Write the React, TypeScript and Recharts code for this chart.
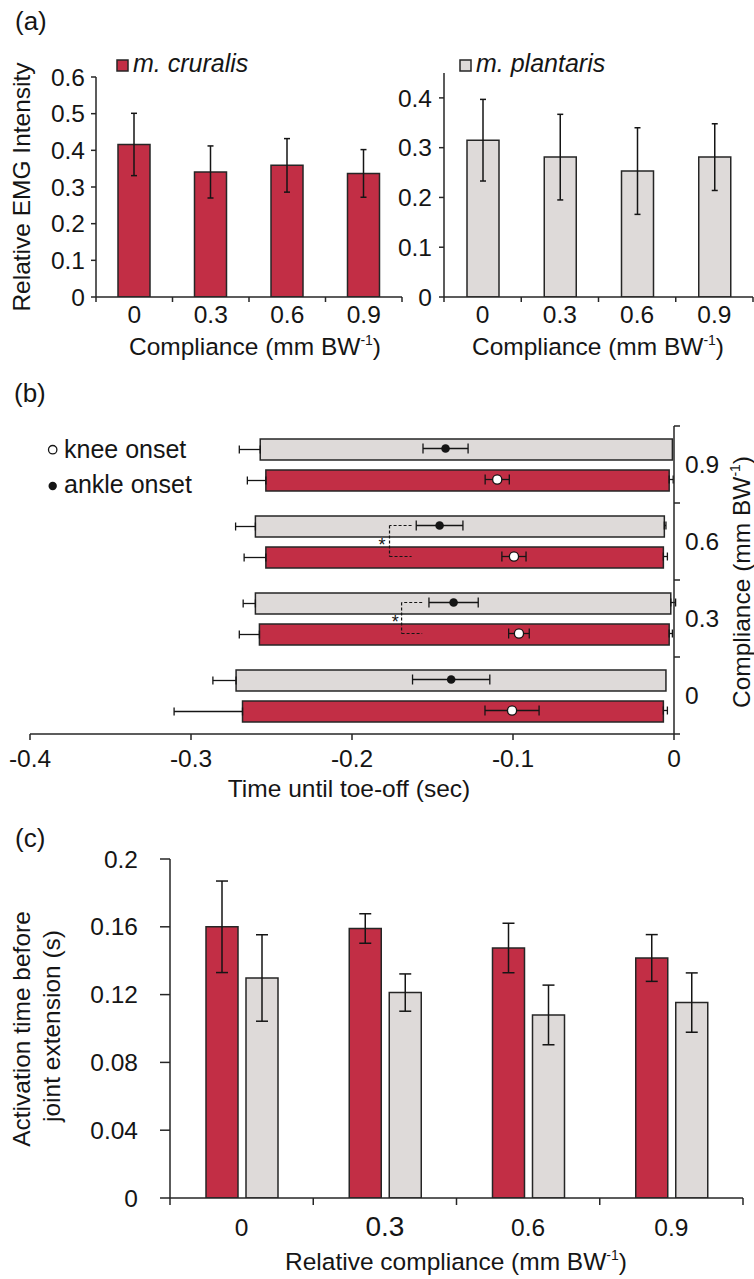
import React from "react";
import {
  Bar,
  BarChart,
  ComposedChart,
  ErrorBar,
  Legend,
  ReferenceDot,
  ReferenceLine,
  Scatter,
  XAxis,
  YAxis,
} from "recharts";

const FONT = '"Liberation Sans", Arial, Helvetica, sans-serif';
const RED = "#c22e45";
const GRAY = "#dedad9";
const INK = "#151515";
const EDGE = "#262626";

// (a) relative EMG intensity
const compliance = ["0", "0.3", "0.6", "0.9"];
const cruralisEmg = [0.416, 0.341, 0.359, 0.337];
const cruralisEmgErr = [0.085, 0.071, 0.073, 0.065];
const plantarisEmg = [0.315, 0.281, 0.253, 0.281];
const plantarisEmgErr = [0.082, 0.086, 0.087, 0.067];
const cruralisEmgTicks = [0, 0.1, 0.2, 0.3, 0.4, 0.5, 0.6];
const plantarisEmgTicks = [0, 0.1, 0.2, 0.3, 0.4];

// (b) activity window relative to toe-off (sec)
const plantarisStart = [-0.272, -0.26, -0.26, -0.257];
const plantarisEnd = [-0.005, -0.002, -0.006, -0.001];
const plantarisStartErr = [0.0144, 0.0076, 0.0123, 0.013];
const plantarisEndErr = [0, 0.003, 0.001, 0];
const cruralisStart = [-0.268, -0.2575, -0.2535, -0.2535];
const cruralisEnd = [-0.0066, -0.003, -0.0066, -0.003];
const cruralisStartErr = [0.0425, 0.0125, 0.0135, 0.0115];
const cruralisEndErr = [0.0025, 0.002, 0.0025, 0.0025];
const ankleOnset = [-0.1384, -0.1369, -0.1456, -0.1419];
const ankleOnsetErr = [0.024, 0.0153, 0.0145, 0.014];
const kneeOnset = [-0.1006, -0.0963, -0.0994, -0.1098];
const kneeOnsetErr = [0.0168, 0.0064, 0.0075, 0.0075];
const timeTicks = [-0.4, -0.3, -0.2, -0.1, 0];
// significance brackets (index into compliance)
const sigIndex = [2, 1];
const sigTip = [-0.163, -0.1564];
const sigSpine = [-0.1767, -0.1692];
const sigStar = [-0.1814, -0.1731];

// (c) activation time before joint extension (s)
const cruralisAct = [0.16, 0.159, 0.1475, 0.1416];
const cruralisActErr = [0.027, 0.0087, 0.0146, 0.0138];
const plantarisAct = [0.1298, 0.1212, 0.108, 0.1153];
const plantarisActErr = [0.0255, 0.011, 0.0176, 0.0175];
const actTicks = [0, 0.04, 0.08, 0.12, 0.16, 0.2];

const TICK_FS = 24.5;
const TITLE_FS = 24.5;
const axisLine = { stroke: EDGE, strokeWidth: 1.5 };
const tickLine = { stroke: EDGE, strokeWidth: 1.5 };
const tickFont = { fontSize: TICK_FS, fill: INK };

// panel (b) bar geometry
const B_BAND = 77;
const B_BAR = 21;
const B_GAP = 10;
const bPad = Math.floor((B_BAND - 2 * B_BAR - B_GAP) / 2);
const grayFrac = (bPad + B_BAR / 2) / B_BAND;
const redFrac = (bPad + B_BAR + B_GAP + B_BAR / 2) / B_BAND;
const topRow = (i: number) => compliance.length - 1 - i;
const rowLabels = [...compliance].reverse();

const emgRows = compliance.map((c, i) => ({
  comp: c,
  cru: cruralisEmg[i],
  cruErr: cruralisEmgErr[i],
  pla: plantarisEmg[i],
  plaErr: plantarisEmgErr[i],
}));

const onsetRows = compliance.map((c, i) => ({
  comp: c,
  pStart: plantarisStart[i],
  pEnd: plantarisEnd[i],
  pErr: [plantarisStartErr[i], 0],
  cStart: cruralisStart[i],
  cEnd: cruralisEnd[i],
  cErr: [cruralisStartErr[i], 0],
}));

const ankleDots = compliance.map((_, i) => ({
  x: ankleOnset[i],
  y: topRow(i) + grayFrac,
  err: ankleOnsetErr[i],
}));
const kneeDots = compliance.map((_, i) => ({
  x: kneeOnset[i],
  y: topRow(i) + redFrac,
  err: kneeOnsetErr[i],
}));
const endTips = [
  ...compliance.map((_, i) => ({ x: plantarisEnd[i], y: topRow(i) + grayFrac, err: [0, plantarisEndErr[i]] })),
  ...compliance.map((_, i) => ({ x: cruralisEnd[i], y: topRow(i) + redFrac, err: [0, cruralisEndErr[i]] })),
].filter((d) => d.err[1] > 0);

const actRows = compliance.map((c, i) => ({
  comp: c,
  cru: cruralisAct[i],
  cruErr: cruralisActErr[i],
  pla: plantarisAct[i],
  plaErr: plantarisActErr[i],
}));

const C_TICK_SIZE: Record<string, number> = { "0.3": 28 };

function EdgeTick(props: any) {
  const { x, y, payload, index, band, count, tickLen, tickGap, baseline, sizes } = props;
  const axisY = y - tickLen - tickGap;
  const fs = (sizes && sizes[payload.value]) || TICK_FS;
  return (
    <g>
      <line x1={x - band / 2} x2={x - band / 2} y1={axisY} y2={axisY + tickLen} stroke={EDGE} strokeWidth={1.5} />
      {index === count - 1 && (
        <line x1={x + band / 2} x2={x + band / 2} y1={axisY} y2={axisY + tickLen} stroke={EDGE} strokeWidth={1.5} />
      )}
      <text x={x} y={axisY + baseline} textAnchor="middle" fontSize={fs} fill={INK}>
        {payload.value}
      </text>
    </g>
  );
}

function TimeTick(props: any) {
  const { x, y, payload } = props;
  return (
    <text x={x} y={y + 17} textAnchor="middle" fontSize={TICK_FS} fill={INK}>
      {payload.value}
    </text>
  );
}

function RowTick(props: any) {
  const { x, y, payload } = props;
  const label = rowLabels[payload.value];
  if (label === undefined) return null;
  return (
    <text x={x} y={y + B_BAND / 2} dy="0.36em" textAnchor="start" fontSize={TICK_FS} fill={INK}>
      {label}
    </text>
  );
}

function SwatchLegend({ color, name }: { color: string; name: string }) {
  return (
    <svg width={200} height={32} style={{ overflow: "visible" }}>
      <rect x={7} y={10} width={11} height={11} fill={color} stroke={EDGE} strokeWidth={1.5} />
      <text x={23} y={22} fontSize={25} fontStyle="italic" fill={INK} fontFamily={FONT}>
        {name}
      </text>
    </svg>
  );
}

function OnsetLegend() {
  return (
    <svg width={200} height={80} style={{ overflow: "visible" }}>
      <circle cx={12.7} cy={19.7} r={4.2} fill="#fff" stroke={INK} strokeWidth={1.3} />
      <text x={24} y={27.7} fontSize={25} fill={INK} fontFamily={FONT}>
        knee onset
      </text>
      <circle cx={12.7} cy={56} r={4.2} fill={INK} />
      <text x={24} y={63.3} fontSize={25} fill={INK} fontFamily={FONT}>
        ankle onset
      </text>
    </svg>
  );
}

function UnitTitle({ x, y, lead, rotate }: { x: number; y: number; lead: string; rotate?: boolean }) {
  return (
    <text
      x={x}
      y={y}
      textAnchor="middle"
      fontSize={TITLE_FS}
      fill={INK}
      transform={rotate ? `rotate(-90 ${x} ${y})` : undefined}
    >
      {lead} (mm BW
      <tspan fontSize={14} dy={-10}>
        -1
      </tspan>
      <tspan dy={10}>)</tspan>
    </text>
  );
}

const abs = (left: number, top: number): React.CSSProperties => ({ position: "absolute", left, top });

export default function App() {
  return (
    <div
      style={{
        position: "absolute",
        left: 0,
        top: 0,
        width: 754,
        height: 1279,
        background: "#fff",
        fontFamily: FONT,
        overflow: "hidden",
      }}
    >
      {/* (a) m. cruralis */}
      <div style={abs(0, 0)}>
        <BarChart width={410} height={370} data={emgRows} barSize={32} margin={{ top: 77, right: 8, bottom: 33, left: 36 }}>
          <XAxis
            dataKey="comp"
            interval={0}
            height={40}
            axisLine={axisLine}
            tickLine={false}
            tickSize={5}
            tickMargin={4}
            tick={<EdgeTick band={76.5} count={4} tickLen={5} tickGap={4} baseline={26} />}
          />
          <YAxis
            type="number"
            domain={[0, 0.6]}
            ticks={cruralisEmgTicks}
            allowDataOverflow
            width={60}
            tickSize={5}
            tickMargin={6}
            axisLine={axisLine}
            tickLine={tickLine}
            tick={tickFont}
          />
          <Bar dataKey="cru" fill={RED} stroke={EDGE} strokeWidth={1.5} isAnimationActive={false}>
            <ErrorBar dataKey="cruErr" direction="y" width={3} stroke={INK} strokeWidth={1.5} />
          </Bar>
          <Legend
            layout="horizontal"
            verticalAlign="middle"
            align="center"
            wrapperStyle={{ left: 110, top: 50, width: 200, height: 32 }}
            content={() => <SwatchLegend color={RED} name="m. cruralis" />}
          />
        </BarChart>
      </div>

      {/* (a) m. plantaris */}
      <div style={abs(377, 0)}>
        <BarChart width={377} height={370} data={emgRows} barSize={32} margin={{ top: 73, right: 1, bottom: 33, left: 7 }}>
          <XAxis
            dataKey="comp"
            interval={0}
            height={40}
            axisLine={axisLine}
            tickLine={false}
            tickSize={5}
            tickMargin={4}
            tick={<EdgeTick band={77.25} count={4} tickLen={5} tickGap={4} baseline={26} />}
          />
          <YAxis
            type="number"
            domain={[0, 0.45]}
            ticks={plantarisEmgTicks}
            allowDataOverflow
            width={60}
            tickSize={5}
            tickMargin={7}
            axisLine={axisLine}
            tickLine={tickLine}
            tick={tickFont}
          />
          <Bar dataKey="pla" fill={GRAY} stroke={EDGE} strokeWidth={1.5} isAnimationActive={false}>
            <ErrorBar dataKey="plaErr" direction="y" width={3} stroke={INK} strokeWidth={1.5} />
          </Bar>
          <Legend
            layout="horizontal"
            verticalAlign="middle"
            align="center"
            wrapperStyle={{ left: 76, top: 50, width: 200, height: 32 }}
            content={() => <SwatchLegend color={GRAY} name="m. plantaris" />}
          />
        </BarChart>
      </div>

      {/* (b) onset timing */}
      <div style={abs(0, 380)}>
        <ComposedChart
          layout="vertical"
          width={754}
          height={430}
          data={onsetRows}
          barSize={B_BAR}
          barGap={B_GAP}
          margin={{ top: 46, right: 30, bottom: 16, left: 30 }}
        >
          <XAxis
            type="number"
            domain={[-0.4, 0]}
            ticks={timeTicks}
            allowDataOverflow
            height={60}
            tickSize={6}
            tickMargin={10}
            axisLine={axisLine}
            tickLine={tickLine}
            tick={<TimeTick />}
          />
          <YAxis yAxisId="cat" type="category" dataKey="comp" hide reversed />
          <YAxis
            yAxisId="num"
            type="number"
            dataKey="y"
            orientation="right"
            domain={[0, 4]}
            ticks={[0, 1, 2, 3, 4]}
            allowDataOverflow
            width={50}
            tickSize={6}
            tickMargin={5}
            axisLine={axisLine}
            tickLine={tickLine}
            tick={<RowTick />}
          />
          <Bar
            yAxisId="cat"
            dataKey={(d: any) => [d.pEnd, d.pStart]}
            fill={GRAY}
            stroke={EDGE}
            strokeWidth={1.5}
            isAnimationActive={false}
          >
            <ErrorBar dataKey="pErr" direction="x" width={4} stroke={INK} strokeWidth={1.3} />
          </Bar>
          <Bar
            yAxisId="cat"
            dataKey={(d: any) => [d.cEnd, d.cStart]}
            fill={RED}
            stroke={EDGE}
            strokeWidth={1.5}
            isAnimationActive={false}
          >
            <ErrorBar dataKey="cErr" direction="x" width={4} stroke={INK} strokeWidth={1.3} />
          </Bar>
          <Scatter yAxisId="num" data={endTips} dataKey="x" isAnimationActive={false} shape={() => <g />}>
            <ErrorBar dataKey="err" direction="x" width={4} stroke={INK} strokeWidth={1.3} />
          </Scatter>
          {sigIndex.map((ci, k) => {
            const yG = topRow(ci) + grayFrac;
            const yR = topRow(ci) + redFrac;
            const dash = { stroke: INK, strokeWidth: 1.2, strokeDasharray: "3 2", ifOverflow: "visible" as const };
            return [
              <ReferenceLine key={`g${k}`} yAxisId="num" segment={[{ x: sigTip[k], y: yG }, { x: sigSpine[k], y: yG }]} {...dash} />,
              <ReferenceLine key={`s${k}`} yAxisId="num" segment={[{ x: sigSpine[k], y: yG }, { x: sigSpine[k], y: yR }]} {...dash} />,
              <ReferenceLine key={`r${k}`} yAxisId="num" segment={[{ x: sigSpine[k], y: yR }, { x: sigTip[k], y: yR }]} {...dash} />,
              <ReferenceDot
                key={`a${k}`}
                yAxisId="num"
                x={sigStar[k]}
                y={topRow(ci) + 0.5}
                r={0}
                ifOverflow="visible"
                shape={(p: any) => (
                  <text x={p.cx} y={p.cy + 9} textAnchor="middle" fontSize={18} fill={INK}>
                    *
                  </text>
                )}
              />,
            ];
          })}
          <Scatter
            yAxisId="num"
            data={ankleDots}
            dataKey="x"
            isAnimationActive={false}
            shape={(p: any) => <circle cx={p.cx} cy={p.cy} r={4.3} fill={INK} />}
          >
            <ErrorBar dataKey="err" direction="x" width={5} stroke={INK} strokeWidth={1.3} />
          </Scatter>
          <Scatter
            yAxisId="num"
            data={kneeDots}
            dataKey="x"
            isAnimationActive={false}
            shape={(p: any) => <circle cx={p.cx} cy={p.cy} r={4.6} fill="#fff" stroke={INK} strokeWidth={1.3} />}
          >
            <ErrorBar dataKey="err" direction="x" width={5} stroke={INK} strokeWidth={1.3} />
          </Scatter>
          <Legend
            layout="horizontal"
            verticalAlign="middle"
            align="center"
            wrapperStyle={{ left: 40, top: 50, width: 200, height: 80 }}
            content={() => <OnsetLegend />}
          />
        </ComposedChart>
      </div>

      {/* (c) activation time */}
      <div style={abs(0, 800)}>
        <BarChart
          width={754}
          height={479}
          data={actRows}
          barSize={32}
          barGap={8}
          margin={{ top: 59, right: 11, bottom: 21, left: 60 }}
        >
          <XAxis
            dataKey="comp"
            interval={0}
            height={60}
            axisLine={axisLine}
            tickLine={false}
            tickSize={7}
            tickMargin={8}
            tick={<EdgeTick band={143.25} count={4} tickLen={7} tickGap={8} baseline={38} sizes={C_TICK_SIZE} />}
          />
          <YAxis
            type="number"
            domain={[0, 0.2]}
            ticks={actTicks}
            allowDataOverflow
            width={110}
            tickSize={10}
            tickMargin={22}
            axisLine={axisLine}
            tickLine={tickLine}
            tick={tickFont}
          />
          <Bar dataKey="cru" fill={RED} stroke={EDGE} strokeWidth={1.5} isAnimationActive={false}>
            <ErrorBar dataKey="cruErr" direction="y" width={6} stroke={INK} strokeWidth={1.5} />
          </Bar>
          <Bar dataKey="pla" fill={GRAY} stroke={EDGE} strokeWidth={1.5} isAnimationActive={false}>
            <ErrorBar dataKey="plaErr" direction="y" width={6} stroke={INK} strokeWidth={1.5} />
          </Bar>
        </BarChart>
      </div>

      {/* titles */}
      <svg
        width={754}
        height={1279}
        style={{ position: "absolute", left: 0, top: 0, pointerEvents: "none" }}
        fontFamily={FONT}
      >
        <text x={15} y={30} fontSize={26} fill={INK}>(a)</text>
        <text x={14} y={402} fontSize={26} fill={INK}>(b)</text>
        <text x={15} y={847} fontSize={26} fill={INK}>(c)</text>

        <text x={30} y={187} fontSize={TITLE_FS} fill={INK} textAnchor="middle" transform="rotate(-90 30 187)">
          Relative EMG Intensity
        </text>
        <UnitTitle x={255} y={355} lead="Compliance" />
        <UnitTitle x={598} y={355} lead="Compliance" />

        <text x={349} y={797} fontSize={TITLE_FS} fill={INK} textAnchor="middle">
          Time until toe-off (sec)
        </text>
        <UnitTitle x={750} y={582} lead="Compliance" rotate />

        <text x={30} y={1029} fontSize={TITLE_FS} fill={INK} textAnchor="middle" transform="rotate(-90 30 1029)">
          Activation time before
        </text>
        <text x={60} y={1026} fontSize={TITLE_FS} fill={INK} textAnchor="middle" transform="rotate(-90 60 1026)">
          joint extension (s)
        </text>
        <UnitTitle x={456} y={1270} lead="Relative compliance" />
      </svg>
    </div>
  );
}
